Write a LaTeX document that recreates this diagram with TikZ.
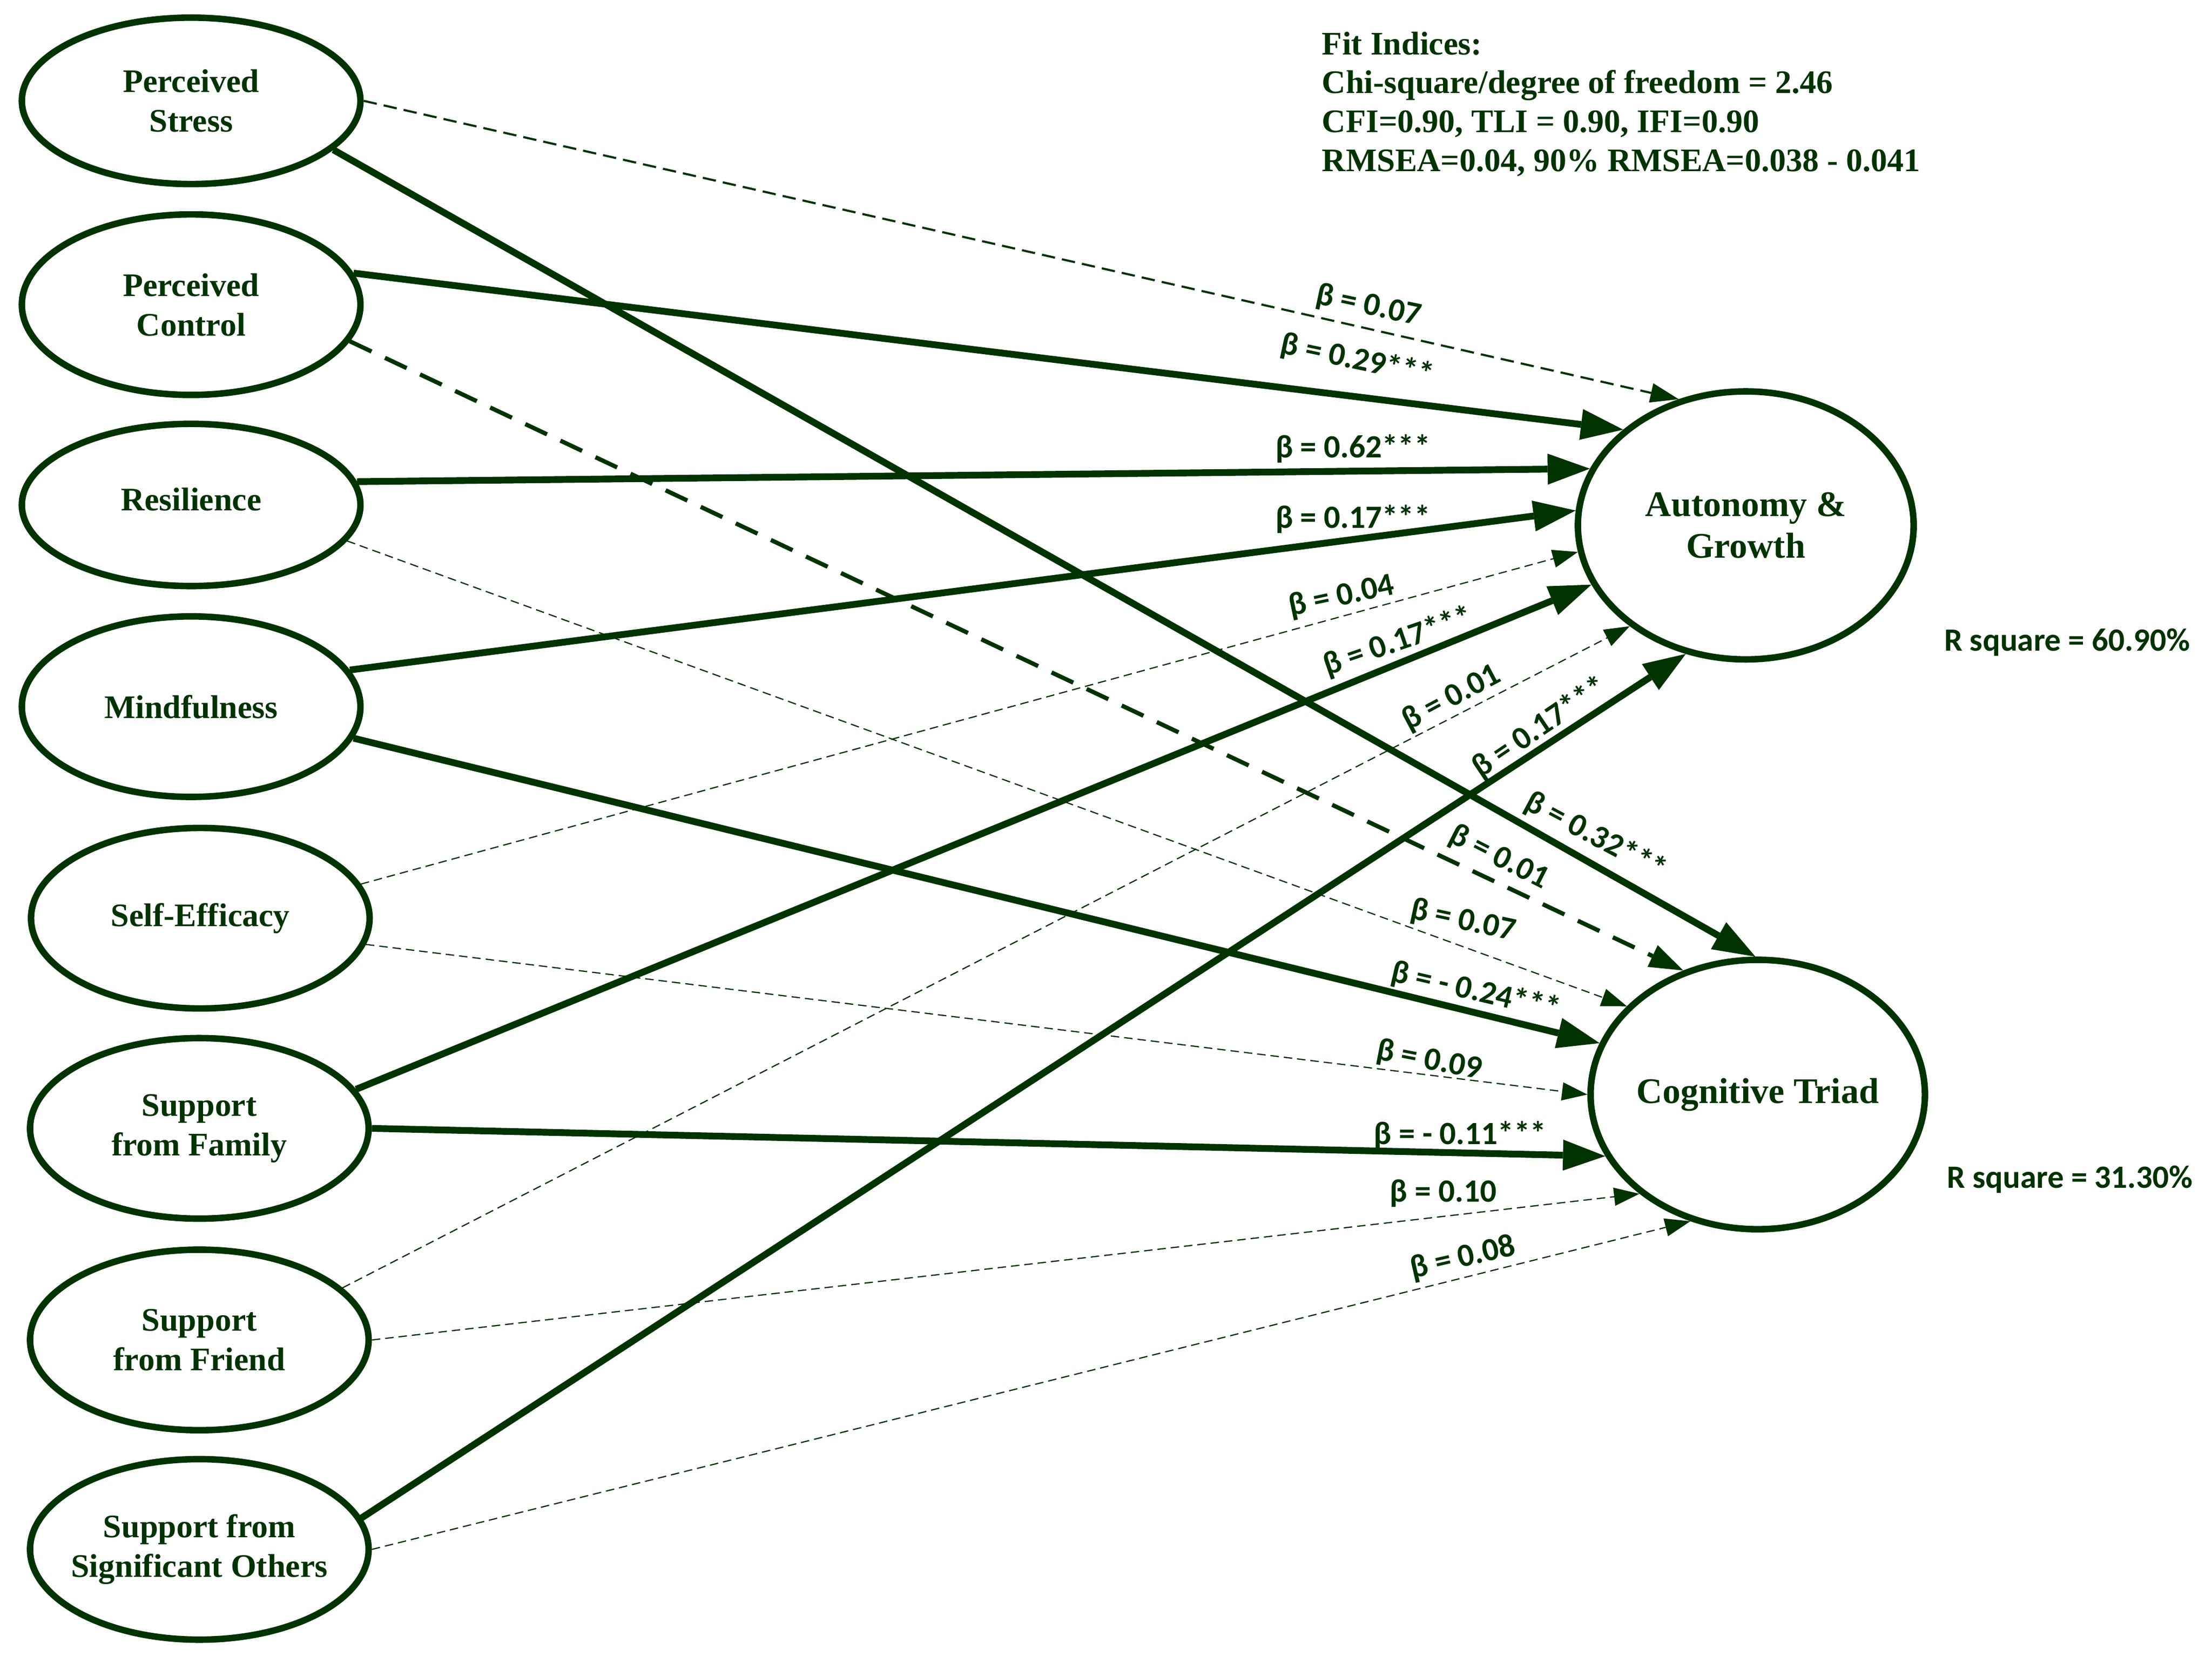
\documentclass[tikz,border=0pt]{standalone}
\usepackage{fontspec}
\setmainfont{Liberation Serif}
\newfontfamily\lblfont{Carlito}
\usetikzlibrary{shapes.geometric,arrows.meta}
\definecolor{dkg}{RGB}{0,51,0}
\begin{document}
\begin{tikzpicture}[x=1pt,y=-1pt,
  lat/.style={ellipse, draw=dkg, line width=4.6pt, minimum width=240pt, minimum height=128pt, inner sep=0pt},
  endo/.style={ellipse, draw=dkg, line width=4.6pt, minimum width=238pt, minimum height=191pt, inner sep=0pt},
  lbl/.style={align=center, text=dkg, inner sep=0pt, font=\bfseries\fontsize{23.3}{28}\selectfont},
  lblr/.style={align=center, text=dkg, inner sep=0pt, font=\bfseries\fontsize{25.5}{29.5}\selectfont},
  bl/.style={text=dkg, inner sep=0pt, font=\lblfont\bfseries\fontsize{23}{27}\selectfont},
  fittxt/.style={text=dkg, inner sep=0pt, anchor=base west, font=\bfseries\fontsize{23.3}{28}\selectfont},
  rsq/.style={text=dkg, inner sep=0pt, anchor=base west, font=\lblfont\bfseries\fontsize{23}{27}\selectfont},
  thk/.style={draw=dkg, line width=4.8pt, -{Triangle[length=30pt,width=22pt,line width=0pt]}},
  thn/.style={draw=dkg, line width=0.85pt, dash pattern=on 6pt off 3.5pt, -{Triangle[length=18pt,width=13pt,line width=0pt]}},
  psd/.style={draw=dkg, line width=1.5pt, dash pattern=on 9.5pt off 5pt, -{Triangle[length=20pt,width=14pt,line width=0pt]}},
  med/.style={draw=dkg, line width=3pt, dash pattern=on 17pt off 10.5pt, -{Triangle[length=24pt,width=17pt,line width=0pt]}}
]
\fill[white] (0,0) rectangle (1568,1174);
\useasboundingbox (0,0) rectangle (1568,1174);

% exogenous latent variables
\node[lat, minimum height=118pt, label={[lbl]center:Perceived\\Stress}] (ps) at (135.5,71.5) {};
\node[lat, label={[lbl]center:Perceived\\Control}] (pc) at (135.5,216) {};
\node[lat, minimum height=115pt, label={[lbl,yshift=4pt]center:Resilience}] (rs) at (135.5,358) {};
\node[lat, label={[lbl]center:Mindfulness}] (mf) at (135.5,501) {};
\node[lat, label={[lbl]center:Self-Efficacy}] (se) at (142,651) {};
\node[lat, label={[lbl]center:Support\\from Family}] (sf) at (141.3,800) {};
\node[lat, label={[lbl]center:Support\\from Friend}] (sfr) at (141.3,950) {};
\node[lat, label={[lbl]center:Support from\\Significant Others}] (so) at (141.3,1098.5) {};

% endogenous variables
\node[endo, minimum height=190pt, label={[lblr]center:Autonomy \&\\Growth}] (ag) at (1237.5,372.5) {};
\node[endo, minimum width=237pt, label={[lblr]center:Cognitive Triad}] (ct) at (1246,776) {};

% paths
\draw[psd] (ps.0) -- (ag.118.9);
\draw[thk] (ps.-19.9) -- (ct.91.8);
\draw[thk] (pc.11.5) -- (ag.142.8);
\draw[med] (pc.-13.6) -- (ct.121.2);
\draw[thk] (rs.8.9) -- (ag.160.8);
\draw[thn] (rs.-13) -- (ct.146.6);
\draw[thk] (mf.13.6) -- (ag.175.5);
\draw[thk] (mf.-11.4) -- (ct.162.9);
\draw[thn] (se.12.8) -- (ag.189.3);
\draw[thn] (se.-9.7) -- (ct.180);
\draw[thk] (sf.14) -- (ag.201);
\draw[thk] (sf.0) -- (ct.202.6);
\draw[thn] (sfr.20.6) -- (ag.221.4);
\draw[thn] (sfr.0) -- (ct.220.2);
\draw[thk] (so.11.7) -- (ag.245.8);
\draw[thn] (so.0) -- (ct.242.7);

% coefficients
\node[bl, rotate=-12] (b1) at (970,217) {β = 0.07};
\node[bl, rotate=-12] (b2) at (962,255.5) {β = 0.29***};
\node[bl] (b3) at (959,318) {β = 0.62***};
\node[bl] (b4) at (959,368) {β = 0.17***};
\node[bl, rotate=12] (b5) at (951,423) {β = 0.04};
\node[bl, rotate=19] (b6) at (991,455) {β = 0.17***};
\node[bl, rotate=28] (b7) at (1029,495) {β = 0.01};
\node[bl, rotate=34] (b8) at (1091.5,516) {β = 0.17***};
\node[bl, rotate=-28] (b9) at (1131,593) {β = 0.32***};
\node[bl, rotate=-27] (b10) at (1062.5,608) {β = 0.01};
\node[bl, rotate=-12] (b11) at (1037,653) {β = 0.07};
\node[bl, rotate=-13] (b12) at (1046,703) {β = - 0.24***};
\node[bl, rotate=-11] (b13) at (1013,752) {β = 0.09};
\node[bl] (b14) at (1035,805) {β = - 0.11***};
\node[bl] (b15) at (1023,846) {β = 0.10};
\node[bl, rotate=13] (b16) at (1037,892) {β = 0.08};

% fit indices
\node[fittxt] (f1) at (937,38.7) {Fit Indices:};
\node[fittxt] (f2) at (937,66.3) {Chi-square/degree of freedom = 2.46};
\node[fittxt] (f3) at (937,93.9) {CFI=0.90, TLI = 0.90, IFI=0.90};
\node[fittxt] (f4) at (937,121.6) {RMSEA=0.04, 90\% RMSEA=0.038 - 0.041};

% R squares
\node[rsq] (r1) at (1378,461.4) {R square = 60.90\%};
\node[rsq] (r2) at (1380,842.4) {R square = 31.30\%};
\end{tikzpicture}
\end{document}
